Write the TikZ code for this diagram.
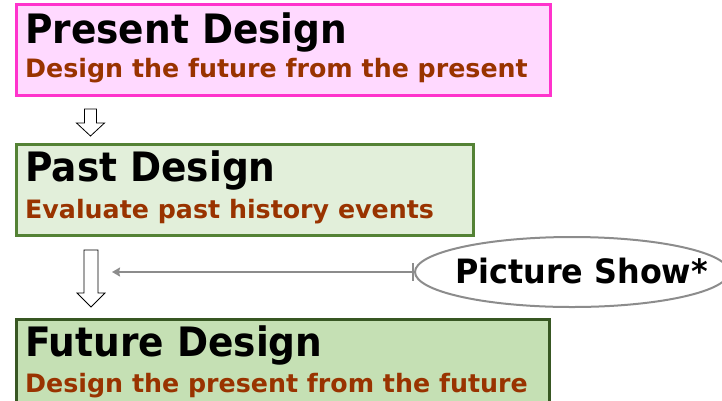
\documentclass[tikz,border=0pt]{standalone}
\usepackage{fontspec}
\setmainfont{DejaVu Sans}
\newfontfamily\titlefont[FakeStretch=0.926]{DejaVu Sans}
\newfontfamily\psfont[FakeStretch=0.95]{DejaVu Sans}
\usetikzlibrary{arrows.meta,shapes.geometric,calc}
\definecolor{pinkfill}{HTML}{FFD9FF}
\definecolor{pinkline}{HTML}{FF33CC}
\definecolor{lgfill}{HTML}{E2EFDA}
\definecolor{lgline}{HTML}{548235}
\definecolor{mgfill}{HTML}{C5E0B4}
\definecolor{dgline}{HTML}{385723}
\definecolor{subbrown}{HTML}{993300}
\definecolor{conngray}{HTML}{8C8C8C}
\tikzset{
  box/.style={draw, line width=2.5pt, rectangle, anchor=north west, inner sep=0pt},
  titletxt/.style={anchor=base west, inner sep=0pt, font=\titlefont\fontsize{40.5}{40.5}\selectfont\bfseries, text=black},
  subtxt/.style={anchor=base west, inner sep=0pt, font=\fontsize{25.3}{25.3}\selectfont\bfseries, text=subbrown},
  hollow/.style={draw=black, fill=white, line width=0.8pt, line join=miter},
}
\begin{document}
\begin{tikzpicture}[x=1pt,y=-1pt]
\useasboundingbox (0,0) rectangle (722,400);
% boxes
\node[box, draw=pinkline, fill=pinkfill, minimum width=534pt, minimum height=91pt] (present) at (15,3) {};
\node[box, draw=lgline, fill=lgfill, minimum width=457pt, minimum height=91pt] (past) at (15,143) {};
\node[box, draw=dgline, fill=mgfill, minimum width=533pt, minimum height=100pt] (future) at (15,318) {};
% texts
\node[titletxt] (t1) at (25,43) {Present Design};
\node[subtxt] (s1) at (25,77) {Design the future from the present};
\node[titletxt] (t2) at (25,181) {Past Design};
\node[subtxt] (s2) at (25,218) {Evaluate past history events};
\node[titletxt] (t3) at (25,356) {Future Design};
\node[subtxt] (s3) at (25,392) {Design the present from the future};
% small hollow arrow
\coordinate (a1) at (90.5,109);
\draw[hollow] ($(a1)+(-6,0)$) -- ++(12,0) -- ++(0,14) -- ++(8,0) -- ($(a1)+(0,27)$) -- ($(a1)+(-14,14)$) -- ++(8,0) -- cycle;
% big hollow arrow
\coordinate (a2) at (91,250);
\draw[hollow] ($(a2)+(-7,0)$) -- ++(14,0) -- ++(0,43) -- ++(7,0) -- ($(a2)+(0,57)$) -- ($(a2)+(-14,43)$) -- ++(7,0) -- cycle;
% ellipse
\node[ellipse, draw=conngray, line width=2pt, fill=white, minimum width=314pt, minimum height=70pt, inner sep=0pt] (ps) at (572,272) {};
\node[anchor=base west, inner sep=0pt, font=\psfont\fontsize{33.5}{33.5}\selectfont\bfseries] (pst) at (455,283) {Picture Show*};
\coordinate (tip) at (112,272);
\draw[conngray, line width=2.2pt, {Stealth[length=8pt,width=9pt,inset=1pt]}-{Bar[width=18pt]}] (tip) -- (ps.west);
\end{tikzpicture}
\end{document}
